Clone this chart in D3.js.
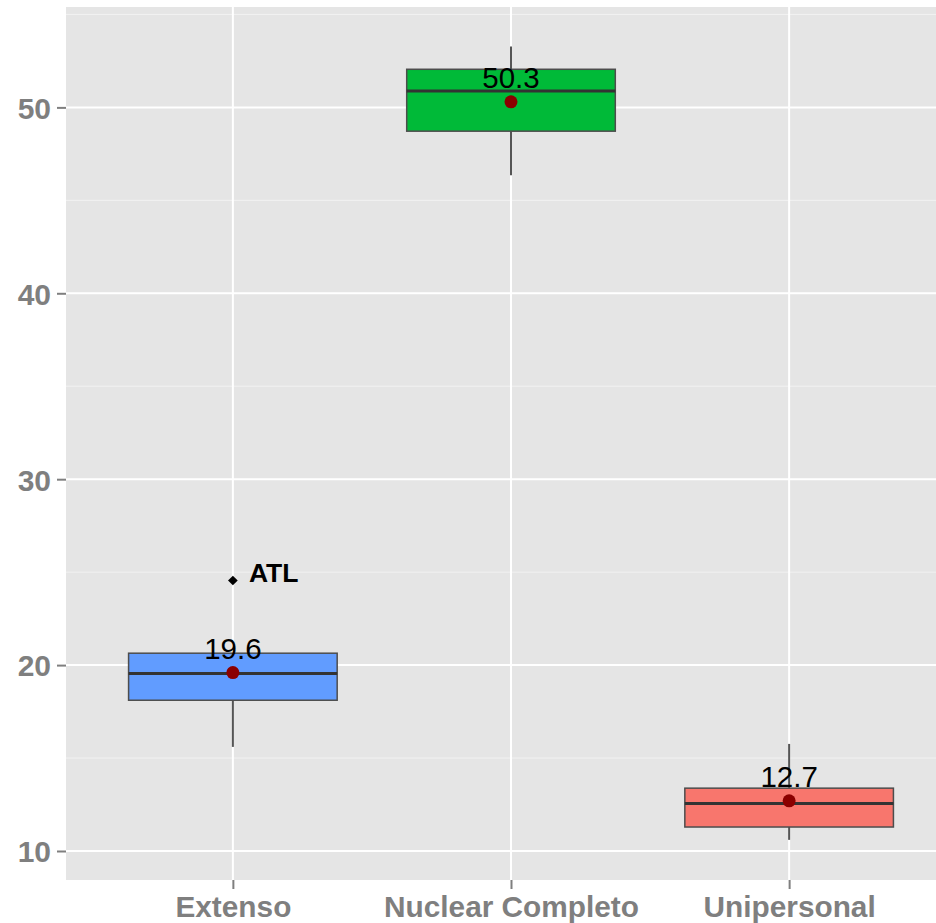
<!DOCTYPE html>
<html><head><meta charset="utf-8">
<script src="https://cdn.jsdelivr.net/npm/d3@7"></script>
<style>html,body{margin:0;padding:0;background:#fff;overflow:hidden}</style>
</head><body>
<svg id="c" width="936" height="923"></svg>
<script>
const categories = ["Extenso", "Nuclear Completo", "Unipersonal"];
const lowerWhisker = [15.6, 46.35, 10.6];
const q1 = [18.11, 48.72, 11.29];
const median = [19.55, 50.88, 12.55];
const q3 = [20.64, 52.05, 13.38];
const upperWhisker = [20.64, 53.27, 15.76];
const means = [19.6, 50.3, 12.7];
const meanLabels = ["19.6", "50.3", "12.7"];
const fills = ["#619CFF", "#00BA38", "#F8766D"];
const outliers = [{cat: "Extenso", value: 24.55, label: "ATL"}];
const yTicks = [10, 20, 30, 40, 50];
const yMinor = [15, 25, 35, 45, 55];

(function () {
const svg = d3.select("#c");
const pL = 66, pR = 956, pT = 7, pB = 880;
const x = d3.scalePoint().domain(categories).range([pL, pR]).padding(0.6);
const y = d3.scaleLinear().domain([8.44, 55.4]).range([pB, pT]);
const bw = x.step() * 0.75;
const font = "Liberation Sans, Arial, sans-serif";

svg.append("rect").attr("x", pL).attr("y", pT).attr("width", pR - pL).attr("height", pB - pT).attr("fill", "#E5E5E5");

const g = svg.append("g");
g.selectAll(".minor").data(yMinor).join("line").attr("class", "minor")
  .attr("x1", pL).attr("x2", pR).attr("y1", d => y(d)).attr("y2", d => y(d))
  .attr("stroke", "#F2F2F2").attr("stroke-width", 1);
g.selectAll(".majory").data(yTicks).join("line").attr("class", "majory")
  .attr("x1", pL).attr("x2", pR).attr("y1", d => y(d)).attr("y2", d => y(d))
  .attr("stroke", "#FFFFFF").attr("stroke-width", 2);
g.selectAll(".majorx").data(categories).join("line").attr("class", "majorx")
  .attr("x1", d => x(d)).attr("x2", d => x(d)).attr("y1", pT).attr("y2", pB)
  .attr("stroke", "#FFFFFF").attr("stroke-width", 2);

const yAxis = d3.axisLeft(y).tickValues(yTicks).tickSize(9).tickPadding(6);
const ya = svg.append("g").attr("transform", `translate(${pL},0)`).call(yAxis);
ya.select(".domain").remove();
ya.selectAll("line").attr("stroke", "#7F7F7F").attr("stroke-width", 2);
ya.selectAll("text").attr("fill", "#7F7F7F").attr("font-family", font)
  .attr("font-size", 30).attr("font-weight", "bold").attr("dy", "0.36em");

const xAxis = d3.axisBottom(x).tickSize(9).tickPadding(8);
const xa = svg.append("g").attr("transform", `translate(0,${pB})`).call(xAxis);
xa.select(".domain").remove();
xa.selectAll("line").attr("stroke", "#7F7F7F").attr("stroke-width", 2);
xa.selectAll("text").attr("fill", "#7F7F7F").attr("font-family", font)
  .attr("font-size", 29.8).attr("font-weight", "bold").attr("dy", "0.68em");

const boxes = svg.append("g");
categories.forEach((c, i) => {
  const cx = x(c);
  boxes.append("line").attr("x1", cx).attr("x2", cx).attr("y1", y(upperWhisker[i])).attr("y2", y(q3[i]))
    .attr("stroke", "#555").attr("stroke-width", 2);
  boxes.append("line").attr("x1", cx).attr("x2", cx).attr("y1", y(q1[i])).attr("y2", y(lowerWhisker[i]))
    .attr("stroke", "#555").attr("stroke-width", 2);
  boxes.append("rect").attr("x", cx - bw / 2).attr("y", y(q3[i])).attr("width", bw).attr("height", y(q1[i]) - y(q3[i]))
    .attr("fill", fills[i]).attr("stroke", "#4D4D4D").attr("stroke-width", 1.5);
  boxes.append("line").attr("x1", cx - bw / 2).attr("x2", cx + bw / 2).attr("y1", y(median[i])).attr("y2", y(median[i]))
    .attr("stroke", "#333").attr("stroke-width", 3);
});

outliers.forEach(o => {
  const cx = x(o.cat), cy = y(o.value);
  svg.append("path").attr("d", d3.symbol(d3.symbolDiamond2, 60)()).attr("transform", `translate(${cx},${cy})`)
    .attr("fill", "#000");
  svg.append("text").attr("x", cx + 16).attr("y", cy + 1.5).text(o.label)
    .attr("font-family", font).attr("font-size", 26.5).attr("font-weight", "bold").attr("fill", "#000");
});

categories.forEach((c, i) => {
  svg.append("circle").attr("cx", x(c)).attr("cy", y(means[i])).attr("r", 6.5).attr("fill", "#8B0000");
  svg.append("text").attr("x", x(c)).attr("y", y(means[i]) - 14).attr("text-anchor", "middle").text(meanLabels[i])
    .attr("font-family", font).attr("font-size", 29.5).attr("fill", "#000");
});
})();
</script>
</body></html>
